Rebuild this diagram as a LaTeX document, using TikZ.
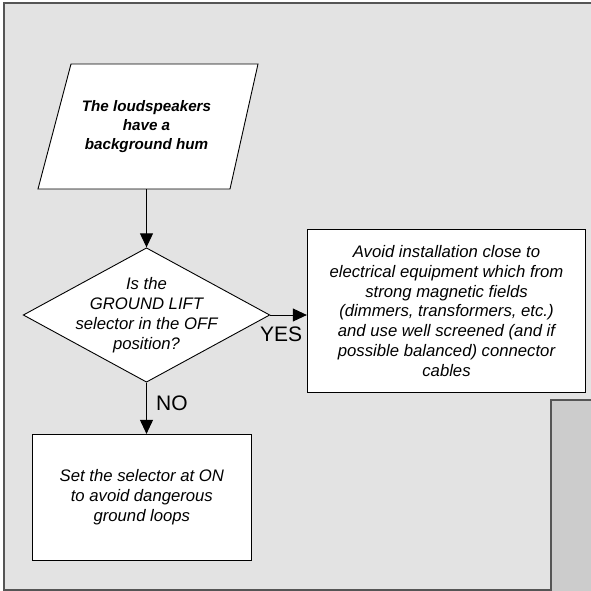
\documentclass[tikz,border=0pt]{standalone}
\usepackage{fontspec}
\setmainfont{Liberation Sans}
\usetikzlibrary{arrows.meta,shapes.geometric,calc}

\definecolor{panelfill}{HTML}{E3E3E3}
\definecolor{shadefill}{HTML}{CCCCCC}
\definecolor{panelline}{HTML}{555555}

\tikzset{
  panel/.style={fill=panelfill, draw=panelline, line width=2pt},
  shadepanel/.style={fill=shadefill, draw=panelline, line width=2pt},
  shapeline/.style={draw=black, fill=white, line width=0.9pt},
  boxnode/.style={shapeline, rectangle, inner sep=0pt},
  decision/.style={shapeline, diamond, inner sep=0pt},
  bodytext/.style={align=center, inner sep=0pt,
    font=\itshape\fontsize{16.7}{19.9}\selectfont},
  titletext/.style={align=center, inner sep=0pt,
    font=\bfseries\itshape\fontsize{15.2}{19}\selectfont},
  answer/.style={inner sep=0pt, anchor=base west,
    font=\fontsize{21}{24}\selectfont},
  flow/.style={draw=black, line width=0.9pt,
    -{Triangle[length=14pt,width=13pt]}},
}

\begin{document}
\begin{tikzpicture}[x=1pt, y=-1pt]
\useasboundingbox (0,0) rectangle (590,591);

% background panels
\draw[panel] (4,3) rectangle (610,589.5);
\draw[shadepanel] (551,400) rectangle (610,610);

% input: skewed box with its caption
\path[shapeline] (71,64) -- (258,64) -- (230,189) -- (38,189) -- cycle;
\node[titletext, minimum width=190pt, minimum height=125pt] (start) at (146.5,126.5)
  {The loudspeakers\\have a\\background hum};

% decision
\node[decision, minimum width=246.6pt, minimum height=134.4pt] (check) at (146.5,315) {};
\node[bodytext] (checktext) at (check.center)
  {Is the\\GROUND LIFT\\selector in the OFF\\position?};

% outcome boxes
\node[boxnode, minimum width=278.4pt, minimum height=163.4pt] (avoid) at (446.5,311)
  {};
\node[bodytext] (avoidtext) at (avoid.center)
  {Avoid installation close to\\electrical equipment which from\\strong magnetic fields\\(dimmers, transformers, etc.)\\and use well screened (and if\\possible balanced) connector\\cables};

\node[boxnode, minimum width=219.7pt, minimum height=125.7pt] (seton) at (141.85,497.2)
  {};
\node[bodytext] (setontext) at (seton.center)
  {Set the selector at ON\\to avoid dangerous\\ground loops};

% connectors
\draw[flow] (start.south) -- (check.north);
\draw[flow] (check.east) -- (check.east -| avoid.west);
\draw[flow] (check.south) -- (check.south |- seton.north);

% branch labels
\node[answer] (yes) at (260,341.7) {YES};
\node[answer] (no) at (156,410) {NO};
\end{tikzpicture}
\end{document}
